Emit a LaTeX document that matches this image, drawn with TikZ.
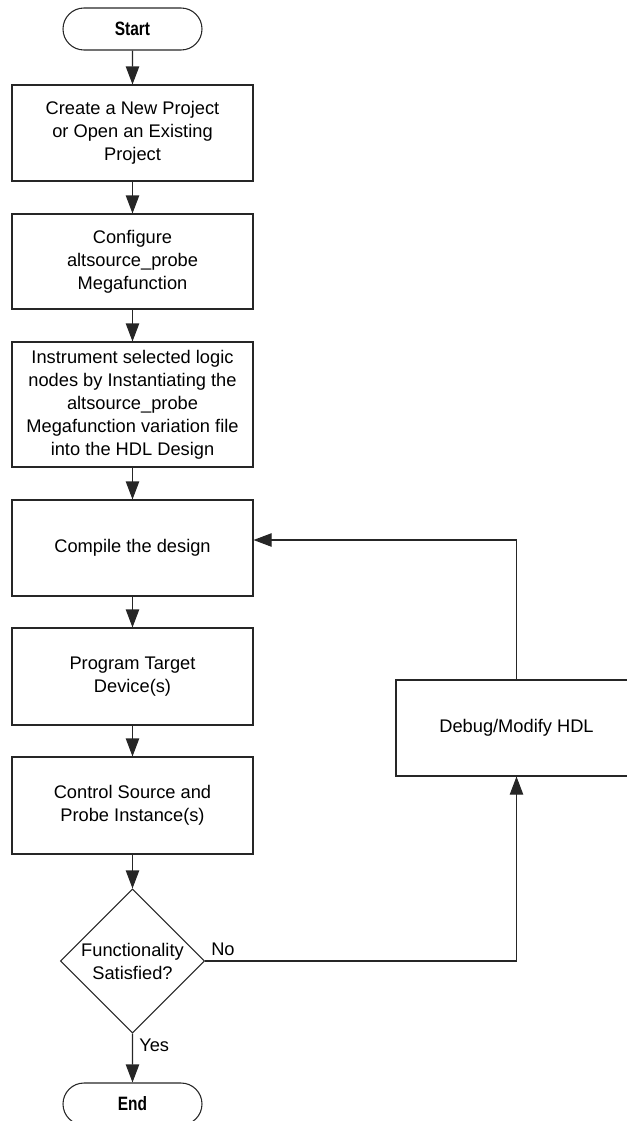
\documentclass[tikz,border=0pt]{standalone}
\usepackage{fontspec}
\setmainfont{Liberation Sans}
\newfontfamily\condbold[FakeStretch=0.8]{Liberation Sans Bold}
\usetikzlibrary{shapes.geometric,shapes.misc,arrows.meta}
\begin{document}
\begin{tikzpicture}[x=0.75pt,y=-0.75pt,
  every node/.style={font=\fontsize{13.7}{17.25}\selectfont},
  procbox/.style={draw=black!85, line width=0.8pt, rectangle, minimum width=180.75pt, align=center, inner sep=0pt},
  termbox/.style={draw=black!85, line width=0.8pt, rounded rectangle, minimum width=104.25pt, minimum height=31.5pt, inner sep=0pt, font=\condbold\fontsize{14.5}{16}\selectfont},
  decbox/.style={draw=black!85, line width=0.8pt, diamond, minimum width=108pt, minimum height=108pt, inner sep=0pt, align=center},
  flow/.style={draw=black!85, line width=0.8pt, -{Triangle[length=13.5pt,width=10pt]}},
  lbl/.style={inner sep=0pt, anchor=west}
]
\useasboundingbox (0,0) rectangle (627,1121);
\node[termbox] (start) at (132.5,29) {Start};
\node[procbox, minimum height=72pt] (b1) at (132.5,133) {Create a New Project\\or Open an Existing\\Project};
\node[procbox, minimum height=71.25pt] (b2) at (132.5,261.5) {Configure\\altsource\_probe\\Megafunction};
\node[procbox, minimum height=93.75pt] (b3) at (132.5,404.5) {Instrument selected logic\\nodes by Instantiating the\\altsource\_probe\\Megafunction variation file\\into the HDL Design};
\node[procbox, minimum height=72pt] (b4) at (132.5,548) {Compile the design};
\node[procbox, minimum height=72.75pt] (b5) at (132.5,676.5) {Program Target\\Device(s)};
\node[procbox, minimum height=72.75pt] (b6) at (132.5,805.5) {Control Source and\\Probe Instance(s)};
\node[decbox] (dec) at (132.5,961) {Functionality\\Satisfied?};
\node[termbox] (end) at (132.5,1104) {End};
\node[procbox, minimum height=72pt] (dbg) at (516.5,728) {Debug/Modify HDL};
\coordinate (noc) at (516.5,961);
\coordinate (fbc) at (516.5,540);
\coordinate (fbin) at (b4.east |- fbc);
\draw[flow] (start) -- (b1);
\draw[flow] (b1) -- (b2);
\draw[flow] (b2) -- (b3);
\draw[flow] (b3) -- (b4);
\draw[flow] (b4) -- (b5);
\draw[flow] (b5) -- (b6);
\draw[flow] (b6) -- (dec);
\draw[flow] (dec) -- (end);
\draw[flow] (dec.east) -- (noc) -- (dbg.south);
\draw[flow] (dbg.north) -- (fbc) -- (fbin);
\node[lbl] (yes) at (139,1045) {Yes};
\node[lbl] (no) at (211,949) {No};
\end{tikzpicture}
\end{document}
